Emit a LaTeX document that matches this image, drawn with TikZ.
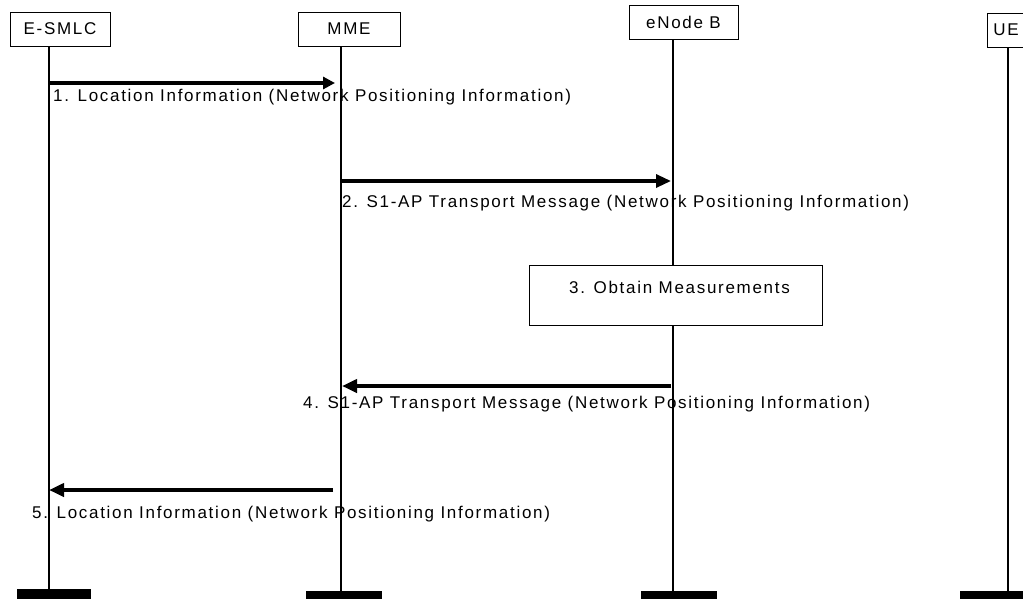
\documentclass[tikz,border=0pt]{standalone}
\usepackage{fontspec}
\setmainfont{Liberation Sans}[LetterSpace=10]
\usetikzlibrary{arrows.meta,calc}
\tikzset{
  entity/.style={draw=black,line width=0.8pt,fill=white,minimum height=34pt,inner sep=0pt,
    font=\fontsize{17}{20}\selectfont},
  endbar/.style={fill=black,inner sep=0pt,anchor=north west,minimum height=12pt},
  lifeline/.style={line width=1.6pt},
  msg/.style={line width=3.8pt,-{Triangle[length=15pt,width=13pt]}},
  msglabel/.style={anchor=base west,inner sep=0pt,font=\fontsize{17}{20}\selectfont},
  action/.style={draw=black,line width=0.8pt,fill=white,anchor=north,inner xsep=0pt,inner ysep=8pt,
    minimum width=293pt,text height=20pt,text depth=24pt,font=\fontsize{17}{20}\selectfont}
}
\begin{document}
\begin{tikzpicture}[x=1pt,y=-1pt]
  \path[use as bounding box,clip] (0,0) rectangle (1023,598);

  % entities
  \node[entity,minimum width=100pt] (esmlc) at (60,29) {E-SMLC};
  \node[entity,minimum width=102pt] (mme)   at (349,29) {MME};
  \node[entity,minimum width=109pt] (enb)   at (683.5,22) {eNode B};
  \node[entity,minimum width=38pt]  (ue)    at (1006,30) {UE};

  % bars at the bottom
  \node[endbar,minimum width=74pt] (esmlcEnd) at (17,589) {};
  \node[endbar,minimum width=76pt] (mmeEnd)   at (306,591) {};
  \node[endbar,minimum width=76pt] (enbEnd)   at (641,591) {};
  \node[endbar,minimum width=70pt] (ueEnd)    at (960,591) {};

  % lifelines
  \coordinate (esmlcX) at (49,0);
  \coordinate (mmeX)   at (341,0);
  \coordinate (enbX)   at (673,0);
  \coordinate (ueX)    at (1008,0);
  \draw[lifeline] (esmlc.south -| esmlcX) -- (esmlcEnd.north -| esmlcX);
  \draw[lifeline] (mme.south -| mmeX) -- (mmeEnd.north -| mmeX);
  \draw[lifeline] (enb.south -| enbX) -- (enbEnd.north -| enbX);
  \draw[lifeline] (ue.south -| ueX) -- (ueEnd.north -| ueX);

  % 1
  \coordinate (m1a) at (esmlcX |- 0,83);
  \coordinate (m1b) at ($(mmeX |- 0,83)+(-6,0)$);
  \draw[msg,line width=4.3pt,-{Triangle[length=12pt,width=12pt]}] (m1a) -- (m1b);
  \node[msglabel] (l1) at (53,101) {1. Location Information (Network Positioning Information)};

  % 2
  \coordinate (m2a) at (mmeX |- 0,181);
  \coordinate (m2b) at ($(enbX |- 0,181)+(-2,0)$);
  \draw[msg,line width=3.2pt] (m2a) -- (m2b);
  \node[msglabel] (l2) at (342,207) {2. S1-AP Transport Message (Network Positioning Information)};

  % 3
  \node[action] (obtain) at (675.5,265) {\hspace*{8pt}3. Obtain Measurements};

  % 4
  \coordinate (m4a) at ($(enbX |- 0,386)+(-2,0)$);
  \coordinate (m4b) at ($(mmeX |- 0,386)+(1,0)$);
  \draw[msg] (m4a) -- (m4b);
  \node[msglabel] (l4) at (303,408) {4. S1-AP Transport Message (Network Positioning Information)};

  % 5
  \coordinate (m5a) at ($(mmeX |- 0,490)+(-8,0)$);
  \coordinate (m5b) at (esmlcX |- 0,490);
  \draw[msg] (m5a) -- (m5b);
  \node[msglabel] (l5) at (32,518) {5. Location Information (Network Positioning Information)};
\end{tikzpicture}
\end{document}
